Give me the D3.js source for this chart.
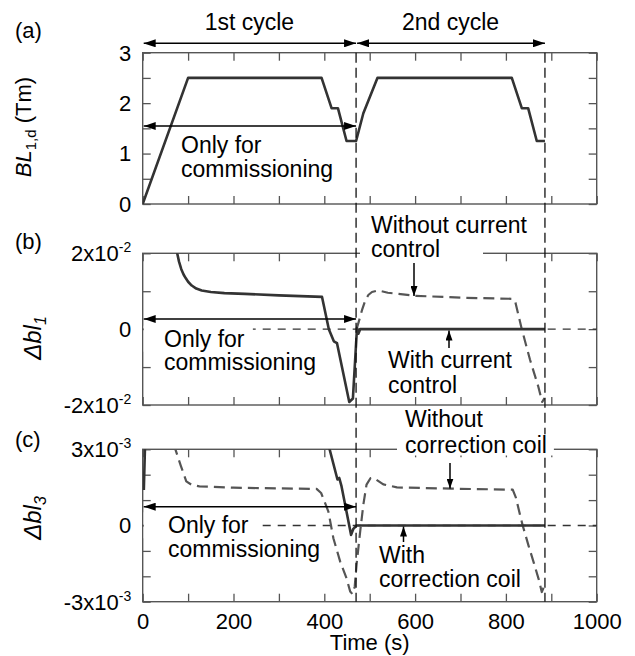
<!DOCTYPE html>
<html lang="en">
<head>
<meta charset="UTF-8" />
<title>BL and multipole errors over two cycles</title>
<style>
  body { margin: 0; background: #fff; }
  svg text { font-family: "Liberation Sans", Arial, sans-serif; fill: #000; }
</style>
</head>
<body>
<div id="chart"></div>
<script src="https://d3js.org/d3.v7.min.js"></script>
<script>
// ---- data (time in s) ----
const timeTickLabels = [0, 200, 400, 600, 800, 1000];
const cycleBounds = [0, 470, 886];
const cycleNames = ['1st cycle', '2nd cycle'];

// (a) integrated dipole field BL_1,d (Tm)
const blTime  = [0, 100, 394, 416, 430, 449, 470, 486, 517, 813, 835, 849, 868, 886];
const blValue = [0, 2.5, 2.5, 1.9, 1.9, 1.25, 1.25, 1.8, 2.5, 2.5, 1.9, 1.9, 1.25, 1.25];
const blTickValues = [0, 1, 2, 3];

// (b) delta bl_1, solid = measured / with current control
const dbl1SolidTime  = [73, 76, 80, 85, 90, 95, 100, 108, 118, 130, 150, 180, 225, 300, 395, 410, 421, 428, 455, 463, 472, 475, 479, 886];
const dbl1SolidValue = [2.2e-2, 2.0e-2, 1.78e-2, 1.58e-2, 1.44e-2, 1.34e-2, 1.25e-2, 1.15e-2, 1.07e-2, 1.02e-2, 0.98e-2, 0.95e-2, 0.93e-2, 0.89e-2, 0.85e-2, 0, -0.32e-2, -0.37e-2, -1.92e-2, -1.83e-2, 0.03e-2, -0.12e-2, 0, 0];
// dashed = without current control
const dbl1DashTime  = [471, 476, 483, 490, 497, 505, 519, 540, 600, 700, 815, 821, 828, 835, 853, 871, 880, 885];
const dbl1DashValue = [0, 0.2e-2, 0.5e-2, 0.75e-2, 0.9e-2, 0.98e-2, 1.02e-2, 0.96e-2, 0.88e-2, 0.83e-2, 0.8e-2, 0.7e-2, 0.35e-2, 0, -0.8e-2, -1.5e-2, -1.92e-2, -1.82e-2];
const dbl1TickValues = [-2e-2, 0, 2e-2];
const dbl1TickText = [['-2x10', '-2'], ['0', ''], ['2x10', '-2']];

// (c) delta bl_3, solid = with correction coil (null = off scale)
const dbl3SolidTime  = [2.5, 5.5, 200, 411, 429, 433, 438, 459, 464, 471, 886];
const dbl3SolidValue = [1.4e-3, 3.4e-3, null, 3.05e-3, 1.81e-3, 1.87e-3, 1.54e-3, -0.37e-3, -0.13e-3, 0, 0];
// dashed = without correction coil
const dbl3DashTime  = [68, 72, 84, 96, 108, 125, 200, 300, 383, 393, 409, 420, 435, 449, 457, 462, 467, 471, 479, 486, 493, 502, 510, 530, 560, 680, 815, 822, 830, 837, 850, 862, 872, 879, 883];
const dbl3DashValue = [3.2e-3, 3.0e-3, 2.35e-3, 1.74e-3, 1.6e-3, 1.54e-3, 1.49e-3, 1.46e-3, 1.44e-3, 1.28e-3, 0.55e-3, -0.5e-3, -1.42e-3, -2.08e-3, -2.6e-3, -2.7e-3, -2.41e-3, -1.55e-3, -0.24e-3, 0.82e-3, 1.61e-3, 1.87e-3, 1.86e-3, 1.62e-3, 1.5e-3, 1.45e-3, 1.41e-3, 1.1e-3, 0.5e-3, 0, -0.8e-3, -1.5e-3, -2.1e-3, -2.62e-3, -2.45e-3];
const dbl3TickValues = [-3e-3, 0, 3e-3];
const dbl3TickText = [['-3x10', '-3'], ['0', ''], ['3x10', '-3']];

// ---- layout ----
const width = 635, height = 656;
const frameColor = '#555';
const x = d3.scaleLinear().domain([0, 1000]).range([142.7, 596.7]);
const yA = d3.scaleLinear().domain([0, 3]).range([204, 52.7]);
const yB = d3.scaleLinear().domain([-0.02, 0.02]).range([405, 253.3]);
const yC = d3.scaleLinear().domain([-0.003, 0.003]).range([601.7, 449.3]);

const svg = d3.select('#chart').append('svg')
  .attr('width', width).attr('height', height);
const defs = svg.append('defs');

function addMarker(id, len, wid) {
  defs.append('marker')
    .attr('id', id)
    .attr('viewBox', `0 0 ${len} ${wid}`)
    .attr('refX', len).attr('refY', wid / 2)
    .attr('markerWidth', len).attr('markerHeight', wid)
    .attr('markerUnits', 'userSpaceOnUse')
    .attr('orient', 'auto-start-reverse')
    .append('path')
    .attr('d', `M0,0L${len},${wid / 2}L0,${wid}Z`)
    .attr('fill', '#000');
}
addMarker('head', 12, 8);
addMarker('headSmall', 10, 7);

const zip = (t, v) => t.map((d, i) => [d, v[i]]);

const panels = [
  { id: 'a', y: yA, minor: d3.range(0, 3.01, 0.5), ticks: blTickValues, tickText: blTickValues.map(d => [String(d), '']), zero: false },
  { id: 'b', y: yB, minor: d3.range(-0.02, 0.0201, 0.01), ticks: dbl1TickValues, tickText: dbl1TickText, zero: true },
  { id: 'c', y: yC, minor: d3.range(-0.003, 0.00301, 0.001), ticks: dbl3TickValues, tickText: dbl3TickText, zero: true }
];

const layers = {
  frame: svg.append('g'),
  zero: svg.append('g'),
  data: svg.append('g'),
  vlines: svg.append('g'),
  notes: svg.append('g')
};

panels.forEach((p, i) => {
  const y = p.y;
  const [y0, y1] = y.range();
  defs.append('clipPath').attr('id', 'clip-' + p.id)
    .append('rect')
    .attr('x', x(0)).attr('y', y1)
    .attr('width', x(1000) - x(0)).attr('height', y0 - y1);

  const g = layers.frame.append('g');
  const xTicks = d3.range(0, 1001, 100);
  const isLast = i === panels.length - 1;

  g.append('g').attr('transform', `translate(0,${y0})`)
    .call(d3.axisBottom(x).tickValues(xTicks).tickSize(-8).tickPadding(12)
      .tickFormat(d => isLast && timeTickLabels.includes(d) ? d : ''));
  g.append('g').attr('transform', `translate(0,${y1})`)
    .call(d3.axisTop(x).tickValues(xTicks).tickSize(-8).tickFormat(''));
  g.append('g').attr('transform', `translate(${x(0)},0)`)
    .call(d3.axisLeft(y).tickValues(p.minor).tickSize(-8).tickFormat(''));
  g.append('g').attr('transform', `translate(${x(1000)},0)`)
    .call(d3.axisRight(y).tickValues(p.minor).tickSize(-8).tickFormat(''));
  g.selectAll('.domain').remove();
  g.selectAll('.tick line').attr('stroke', frameColor).attr('stroke-width', 1.3);
  g.selectAll('.tick text').attr('font-size', 22).attr('font-family', '"Liberation Sans", Arial, sans-serif').attr('fill', '#000');
  g.selectAll('g').attr('font-family', null).attr('font-size', null);

  g.append('rect')
    .attr('x', x(0)).attr('y', y1)
    .attr('width', x(1000) - x(0)).attr('height', y0 - y1)
    .attr('fill', 'none').attr('stroke', frameColor).attr('stroke-width', 1.4);

  // y tick labels
  p.ticks.forEach((v, k) => {
    const t = g.append('text')
      .attr('x', x(0) - 11.5).attr('y', y(v)).attr('dy', '0.36em')
      .attr('text-anchor', 'end').attr('font-size', 22);
    t.append('tspan').text(p.tickText[k][0]);
    if (p.tickText[k][1]) {
      t.append('tspan').attr('font-size', 14).attr('dy', -9).text(p.tickText[k][1]);
    }
  });

  if (p.zero) {
    layers.zero.append('line')
      .attr('x1', x(0)).attr('x2', x(1000))
      .attr('y1', y(0)).attr('y2', y(0))
      .attr('stroke', '#333').attr('stroke-width', 1.4)
      .attr('stroke-dasharray', '8,7');
  }
});

// ---- data lines ----
function drawLine(panelId, y, data, dashed) {
  const line = d3.line()
    .defined(d => d[1] != null)
    .x(d => x(d[0])).y(d => y(d[1]));
  layers.data.append('path')
    .datum(data)
    .attr('clip-path', `url(#clip-${panelId})`)
    .attr('d', line)
    .attr('fill', 'none')
    .attr('stroke', dashed ? '#555' : '#333')
    .attr('stroke-width', dashed ? 2.2 : 2.6)
    .attr('stroke-linejoin', 'round')
    .attr('stroke-dasharray', dashed ? '11,6' : null);
}
drawLine('a', yA, zip(blTime, blValue), false);
drawLine('b', yB, zip(dbl1DashTime, dbl1DashValue), true);
drawLine('b', yB, zip(dbl1SolidTime, dbl1SolidValue), false);
drawLine('c', yC, zip(dbl3DashTime, dbl3DashValue), true);
drawLine('c', yC, zip(dbl3SolidTime, dbl3SolidValue), false);

// cycle boundaries
cycleBounds.slice(1).forEach(t => {
  layers.vlines.append('line')
    .attr('x1', x(t)).attr('x2', x(t))
    .attr('y1', yA.range()[1]).attr('y2', yC.range()[0])
    .attr('stroke', '#111').attr('stroke-width', 1.3)
    .attr('stroke-dasharray', '10,5');
});

// ---- annotations ----
const notes = layers.notes;
function text(xp, yp, str, size, anchor) {
  return notes.append('text')
    .attr('x', xp).attr('y', yp)
    .attr('font-size', size || 23)
    .attr('text-anchor', anchor || 'start')
    .text(str);
}
function whiteBox(x0, y0, x1, y1) {
  notes.append('rect')
    .attr('x', x0).attr('y', y0)
    .attr('width', x1 - x0).attr('height', y1 - y0)
    .attr('fill', '#fff');
}
function arrow(x1, y1, x2, y2, both, small) {
  const m = small ? 'url(#headSmall)' : 'url(#head)';
  notes.append('line')
    .attr('x1', x1).attr('y1', y1).attr('x2', x2).attr('y2', y2)
    .attr('stroke', '#000').attr('stroke-width', 1.5)
    .attr('marker-end', m)
    .attr('marker-start', both ? m : null);
}

// cycle arrows and titles
const arrowY = 43.3;
cycleNames.forEach((name, i) => {
  const a = x(cycleBounds[i]), b = x(cycleBounds[i + 1]);
  arrow(a + 1, arrowY, b, arrowY, true);
  text((a + b) / 2, 30, name, 23, 'middle');
});

// panel letters
text(15, 38, '(a)', 22);
text(15, 249, '(b)', 22);
text(15, 447, '(c)', 22);

// "Only for commissioning" in every panel
const commissioning = [
  { y: yA, arrowY: 126, tx: 181, base: 153, box: false },
  { y: yB, arrowY: 319, tx: 164, base: 346.7, box: true },
  { y: yC, arrowY: 506.7, tx: 168, base: 533.3, box: true }
];
commissioning.forEach(c => {
  if (c.box) {
    const probe = text(c.tx, c.base, 'Only for');
    const bb = probe.node().getBBox();
    probe.remove();
    whiteBox(x(0) + 1, bb.y, bb.x + bb.width + 8, bb.y + bb.height);
  }
  text(c.tx, c.base, 'Only for');
  text(c.tx, c.base + 23.5, 'commissioning');
  arrow(x(0) + 1, c.arrowY, x(cycleBounds[1]), c.arrowY, true);
});

// (b) current control
whiteBox(360, 240, 483, 262);
text(371, 233, 'Without current');
text(371, 256.5, 'control');
arrow(414, 263, 414, 296, false, true);
text(388, 368, 'With current');
text(388, 393, 'control');
arrow(449, 348, 449, 330.5, false, true);

// (c) correction coil
text(405, 427, 'Without');
{
  const probe = text(405, 453.3, 'correction coil');
  const bb = probe.node().getBBox();
  probe.remove();
  whiteBox(bb.x - 8, bb.y + 2, bb.x + bb.width + 7, 455.5);
}
text(405, 453.3, 'correction coil');
arrow(450, 463, 450, 488.5, false, true);
text(379, 563.3, 'With');
text(379, 586.7, 'correction coil');
arrow(403.5, 542, 403.5, 526.5, false, true);

// axis titles
text((x(0) + x(1000)) / 2, 650, 'Time (s)', 22, 'middle');

const tA = notes.append('text')
  .attr('transform', 'translate(31,127) rotate(-90)')
  .attr('text-anchor', 'middle').attr('font-size', 22);
tA.append('tspan').attr('font-style', 'italic').text('BL');
tA.append('tspan').attr('font-size', 15).attr('dy', 5).text('1,d');
tA.append('tspan').attr('dy', -5).text(' (Tm)');

[{ y: 338, sub: '1' }, { y: 518, sub: '3' }].forEach(d => {
  const t = notes.append('text')
    .attr('transform', `translate(41,${d.y}) rotate(-90)`)
    .attr('text-anchor', 'middle').attr('font-size', 24)
    .attr('font-family', '"Liberation Serif", "Times New Roman", serif')
    .attr('font-style', 'italic');
  t.append('tspan').text('\u0394bl');
  t.append('tspan').attr('font-size', 16).attr('dy', 5).text(d.sub);
});
</script>
</body>
</html>
